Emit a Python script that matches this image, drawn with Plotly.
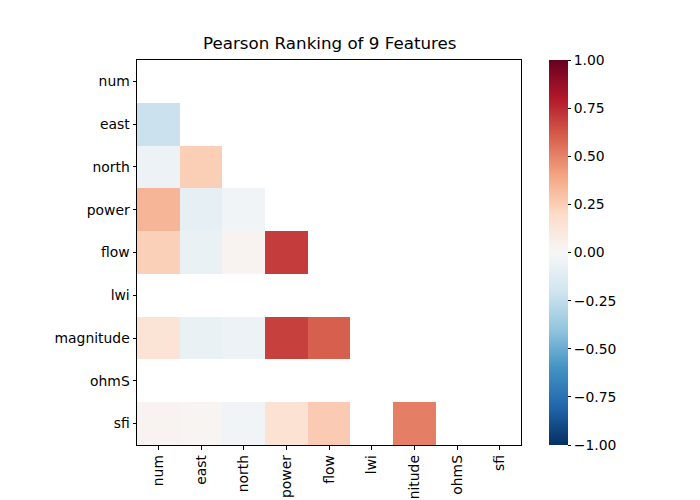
import plotly.graph_objects as go

features = ["num", "east", "north", "power", "flow", "lwi", "magnitude", "ohmS", "sfi"]

# Lower-triangle Pearson coefficients (row feature vs. earlier features); None = masked / NaN
row_num = []
row_east = [-0.22]
row_north = [-0.06, 0.25]
row_power = [0.34, -0.09, -0.03]
row_flow = [0.24, -0.07, 0.03, 0.70]
row_lwi = [None, None, None, None, None]
row_magnitude = [0.14, -0.07, -0.06, 0.69, 0.60, None]
row_ohmS = [None, None, None, None, None, None, None]
row_sfi = [0.03, 0.02, -0.03, 0.15, 0.26, None, 0.51, None]

rows = [row_num, row_east, row_north, row_power, row_flow, row_lwi, row_magnitude, row_ohmS, row_sfi]
n = len(features)
z = [r + [None] * (n - len(r)) for r in rows]

cbar_ticks = [1.0, 0.75, 0.5, 0.25, 0.0, -0.25, -0.5, -0.75, -1.0]
cbar_text = [f"{v:.2f}".replace("-", "\u2212") for v in cbar_ticks]

rdbu_r = ["#053061", "#2166ac", "#4393c3", "#92c5de", "#d1e5f0", "#f7f7f7",
          "#fddbc7", "#f4a582", "#d6604d", "#b2182b", "#67001f"]
colorscale = [[i / 10, c] for i, c in enumerate(rdbu_r)]

font = "DejaVu Sans"

fig = go.Figure(go.Heatmap(
    z=z, x=features, y=features,
    zmin=-1, zmax=1, colorscale=colorscale,
    hoverinfo="skip",
    colorbar=dict(
        x=(549 - 137) / 384, xanchor="left", xref="paper",
        y=0, yanchor="bottom", len=1, lenmode="fraction",
        xpad=0, ypad=0,
        thickness=19, outlinewidth=0,
        tickvals=cbar_ticks, ticktext=cbar_text,
        ticks="outside", ticklen=3.5, tickwidth=0.8, tickcolor="black",
        tickfont=dict(family=font, size=13.9, color="black"),
    ),
))

fig.update_layout(
    width=700, height=500,
    margin=dict(l=137, r=179, t=60, b=55),
    paper_bgcolor="white", plot_bgcolor="white",
    font=dict(family=font, color="black"),
    showlegend=False,
)
fig.add_annotation(
    text="Pearson Ranking of 9 Features", x=0.5, y=1, xref="paper", yref="paper",
    xanchor="center", yanchor="bottom", yshift=5, showarrow=False,
    font=dict(family=font, size=16.7, color="black"),
)
axis_common = dict(
    showline=True, mirror=True, linecolor="black", linewidth=1,
    ticks="outside", ticklen=3.5, tickwidth=0.8, tickcolor="black",
    showgrid=False, zeroline=False,
    tickfont=dict(family=font, size=13.9, color="black"),
)
fig.update_xaxes(tickangle=-90, automargin=False, **axis_common)
fig.update_yaxes(autorange="reversed", automargin=False, **axis_common)

fig.write_html("out.html")
